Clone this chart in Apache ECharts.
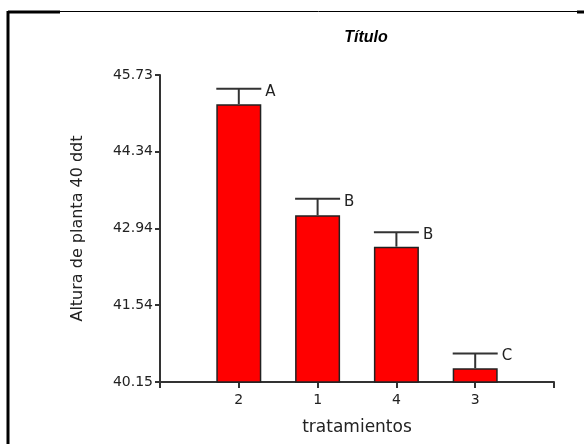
<!DOCTYPE html>
<html>
<head>
<meta charset="utf-8">
<script src="https://cdn.jsdelivr.net/npm/echarts@6/dist/echarts.min.js"></script>
<style>
  html, body { margin: 0; padding: 0; background: #fff; }
  #chart { width: 584px; height: 444px; }
</style>
</head>
<body>
<div id="chart"></div>
<script>
// Treatments in plotted order, mean plant height, standard error and grouping letters
var categories = ['2', '1', '4', '3'];
var means = [45.20, 43.18, 42.61, 40.40];
var errors = [0.28, 0.30, 0.26, 0.27];
var letters = ['A', 'B', 'B', 'C'];
var yTicks = [40.15, 41.545, 42.94, 44.335, 45.73];
var yTickLabels = ['40.15', '41.54', '42.94', '44.34', '45.73'];

// Pad the category axis with empty slots so the axis runs one step past each end
var axisCats = [''].concat(categories, ['']);
var barData = [null].concat(means, [null]);
var errData = categories.map(function (c, i) {
  return [i + 1, means[i], means[i] + errors[i], letters[i]];
});

var chart = echarts.init(document.getElementById('chart'));
var font = '"DejaVu Sans", Verdana, sans-serif';

chart.setOption({
  animation: false,
  backgroundColor: '#fff',
  title: {
    text: 'Título',
    left: 361,
    top: 25,
    textAlign: 'center',
    textStyle: { fontFamily: '"Liberation Sans", Arial, sans-serif', fontSize: 16, fontWeight: 'bold', fontStyle: 'italic', color: '#000' }
  },
  grid: { left: 160, right: 30, top: 75, bottom: 62 },
  graphic: [
    { type: 'line', shape: { x1: 8, y1: 12, x2: 60, y2: 12 }, style: { stroke: '#000', lineWidth: 3 } },
    { type: 'line', shape: { x1: 60, y1: 11.5, x2: 577, y2: 11.5 }, style: { stroke: '#000', lineWidth: 1 } },
    { type: 'line', shape: { x1: 577, y1: 12, x2: 584, y2: 12 }, style: { stroke: '#000', lineWidth: 3 } },
    { type: 'line', shape: { x1: 8, y1: 11, x2: 8, y2: 444 }, style: { stroke: '#000', lineWidth: 3 } }
  ],
  xAxis: {
    type: 'category',
    data: axisCats,
    boundaryGap: false,
    name: 'tratamientos',
    nameLocation: 'middle',
    nameGap: 37,
    nameTextStyle: { fontFamily: font, fontSize: 17, color: '#222' },
    axisLine: { lineStyle: { color: '#333', width: 2 } },
    axisTick: { show: true, length: 6, lineStyle: { color: '#333', width: 2 } },
    axisLabel: { fontFamily: font, fontSize: 14, color: '#222', margin: 11, interval: 0 },
    splitLine: { show: false }
  },
  yAxis: {
    type: 'value',
    min: 40.15,
    max: 45.73,
    name: 'Altura de planta 40 ddt',
    nameLocation: 'middle',
    nameGap: 74,
    nameTextStyle: { fontFamily: font, fontSize: 16, color: '#222' },
    axisLine: { show: true, lineStyle: { color: '#333', width: 2 } },
    axisTick: { show: true, length: 5, lineStyle: { color: '#333', width: 2 }, customValues: yTicks },
    axisLabel: {
      fontFamily: font, fontSize: 14, color: '#222', margin: 7,
      customValues: yTicks,
      formatter: function (v) {
        var idx = 0, best = Infinity;
        yTicks.forEach(function (t, i) { var d = Math.abs(t - v); if (d < best) { best = d; idx = i; } });
        return yTickLabels[idx];
      }
    },
    splitLine: { show: false }
  },
  series: [
    {
      type: 'bar',
      data: barData,
      barWidth: 45,
      itemStyle: { color: '#ff0000', borderColor: '#222', borderWidth: 1.5 },
      z: 2
    },
    {
      type: 'custom',
      data: errData,
      z: 3,
      renderItem: function (params, api) {
        var x = api.value(0);
        var base = api.coord([x, api.value(1)]);
        var top = api.coord([x, api.value(2)]);
        var half = 22.5;
        return {
          type: 'group',
          children: [
            { type: 'line', shape: { x1: base[0], y1: base[1], x2: top[0], y2: top[1] }, style: { stroke: '#333', lineWidth: 2 } },
            { type: 'line', shape: { x1: top[0] - half, y1: top[1], x2: top[0] + half, y2: top[1] }, style: { stroke: '#333', lineWidth: 2 } },
            { type: 'text', x: top[0] + half + 4, y: top[1] + 3,
              style: { text: api.value(3), fontFamily: font, fontSize: 15, fill: '#222', verticalAlign: 'middle', align: 'left' } }
          ]
        };
      }
    }
  ]
});
</script>
</body>
</html>
